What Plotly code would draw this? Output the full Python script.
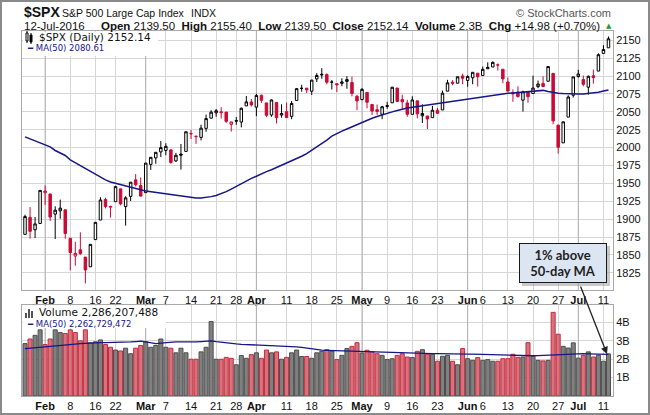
import plotly.graph_objects as go
from plotly.subplots import make_subplots

# trading days shown (Jan 26 - Jul 12, 2016)
trade_days = {
    1: [26, 27, 28, 29],
    2: [1, 2, 3, 4, 5, 8, 9, 10, 11, 12, 16, 17, 18, 19, 22, 23, 24, 25, 26, 29],
    3: [1, 2, 3, 4, 7, 8, 9, 10, 11, 14, 15, 16, 17, 18, 21, 22, 23, 24, 28, 29, 30, 31],
    4: [1, 4, 5, 6, 7, 8, 11, 12, 13, 14, 15, 18, 19, 20, 21, 22, 25, 26, 27, 28, 29],
    5: [2, 3, 4, 5, 6, 9, 10, 11, 12, 13, 16, 17, 18, 19, 20, 23, 24, 25, 26, 27, 31],
    6: [1, 2, 3, 6, 7, 8, 9, 10, 13, 14, 15, 16, 17, 20, 21, 22, 23, 24, 27, 28, 29, 30],
    7: [1, 5, 6, 7, 8, 11, 12],
}
dates = [f"2016-{m:02d}-{d:02d}" for m, days in trade_days.items() for d in days]

opens = [1878.79, 1902.52, 1885.22, 1894.00, 1936.94, 1935.26, 1907.07, 1911.67, 1913.07, 1873.25,
         1848.46, 1857.10, 1847.00, 1833.40, 1871.44, 1898.80, 1927.57, 1916.74, 1924.44, 1942.38,
         1917.56, 1931.87, 1954.95, 1947.13, 1937.09, 1976.60, 1985.60, 1994.01, 1996.11, 1996.88,
         1981.44, 1990.97, 1994.71, 2019.27, 2015.27, 2014.24, 2026.90, 2041.16, 2048.64, 2048.64,
         2049.64, 2032.48, 2037.89, 2035.75, 2058.27, 2063.77, 2056.62, 2073.19, 2062.50, 2045.56,
         2063.01, 2045.54, 2050.23, 2043.72, 2065.92, 2082.89, 2083.10, 2078.83, 2096.05, 2101.52,
         2102.09, 2091.49, 2089.37, 2089.84, 2092.57, 2090.93, 2071.82, 2067.17, 2077.18, 2060.30,
         2052.95, 2046.61, 2057.55, 2062.63, 2083.29, 2067.17, 2062.50, 2046.53, 2065.37, 2044.38,
         2044.21, 2041.88, 2052.23, 2052.65, 2078.93, 2091.44, 2090.06, 2100.13, 2093.94, 2097.71,
         2104.07, 2100.83, 2110.18, 2112.71, 2115.65, 2109.57, 2091.75, 2076.65, 2077.60, 2066.36,
         2078.20, 2075.58, 2085.19, 2089.75, 2092.80, 2103.81, 2031.45, 2006.67, 2042.69, 2073.17,
         2099.34, 2095.05, 2084.43, 2100.42, 2106.97, 2131.72, 2139.50]
highs = [1906.28, 1916.99, 1902.96, 1940.24, 1947.20, 1935.26, 1918.01, 1927.35, 1913.07, 1873.25,
         1868.25, 1881.60, 1847.00, 1864.78, 1895.77, 1930.68, 1930.00, 1918.78, 1946.70, 1942.38,
         1932.08, 1951.83, 1962.96, 1958.27, 1978.35, 1986.51, 1993.69, 2009.13, 2006.12, 1996.88,
         1992.69, 2005.08, 2022.37, 2024.57, 2015.94, 2032.02, 2046.24, 2052.36, 2053.91, 2056.60,
         2049.64, 2036.04, 2042.67, 2055.91, 2072.21, 2067.92, 2075.07, 2074.02, 2062.50, 2067.33,
         2063.01, 2060.63, 2062.93, 2065.05, 2083.18, 2087.84, 2083.22, 2094.66, 2104.05, 2111.05,
         2103.78, 2094.32, 2089.37, 2096.87, 2099.89, 2099.30, 2073.85, 2083.42, 2077.18, 2060.30,
         2060.23, 2058.35, 2064.15, 2084.87, 2083.29, 2073.99, 2066.79, 2071.88, 2065.37, 2060.61,
         2044.21, 2058.35, 2055.58, 2079.67, 2094.73, 2094.30, 2099.06, 2103.48, 2100.97, 2105.26,
         2104.07, 2113.36, 2119.22, 2120.55, 2117.64, 2109.57, 2098.12, 2081.30, 2085.65, 2079.62,
         2078.20, 2100.66, 2093.66, 2099.71, 2113.32, 2103.81, 2031.45, 2036.09, 2073.13, 2098.94,
         2108.71, 2100.72, 2100.72, 2109.08, 2131.71, 2143.16, 2155.40]
lows = [1878.79, 1872.70, 1873.65, 1894.00, 1920.03, 1897.29, 1872.23, 1900.52, 1872.65, 1828.46,
        1834.94, 1850.32, 1810.10, 1833.40, 1871.44, 1898.80, 1915.09, 1902.17, 1924.44, 1919.44,
        1891.00, 1925.41, 1945.78, 1931.81, 1937.09, 1968.80, 1977.37, 1986.77, 1989.38, 1977.43,
        1979.84, 1969.25, 1994.71, 2012.05, 2005.23, 2010.04, 2022.16, 2041.16, 2043.14, 2040.57,
        2034.49, 2022.49, 2031.96, 2028.31, 2058.27, 2057.46, 2043.98, 2062.57, 2042.56, 2043.09,
        2033.80, 2041.69, 2041.88, 2039.74, 2065.92, 2078.13, 2076.31, 2073.65, 2091.68, 2096.32,
        2088.52, 2081.20, 2077.52, 2085.80, 2082.31, 2071.62, 2052.28, 2066.11, 2054.89, 2045.55,
        2045.77, 2039.74, 2054.31, 2062.63, 2064.46, 2053.13, 2043.13, 2046.53, 2040.82, 2034.49,
        2025.91, 2041.88, 2047.26, 2052.65, 2078.93, 2087.08, 2090.06, 2088.66, 2085.10, 2088.59,
        2085.36, 2100.83, 2110.18, 2112.71, 2107.73, 2089.96, 2078.46, 2064.10, 2069.80, 2050.37,
        2062.84, 2075.58, 2083.02, 2084.36, 2092.80, 2032.57, 1991.68, 2006.67, 2042.69, 2070.00,
        2097.90, 2085.81, 2074.02, 2089.39, 2106.97, 2131.72, 2139.50]
closes = [1903.63, 1882.95, 1893.36, 1940.24, 1939.38, 1903.03, 1912.53, 1915.45, 1880.05, 1853.44,
          1852.21, 1851.86, 1829.08, 1864.78, 1895.58, 1926.82, 1917.83, 1917.78, 1945.50, 1921.27,
          1929.80, 1951.70, 1948.05, 1932.23, 1978.35, 1986.45, 1993.40, 1999.99, 2001.76, 1979.26,
          1989.26, 1989.57, 2022.19, 2019.64, 2015.93, 2027.22, 2040.59, 2049.58, 2051.60, 2049.80,
          2036.71, 2035.94, 2037.05, 2055.01, 2063.95, 2059.74, 2072.78, 2066.13, 2045.17, 2066.66,
          2041.91, 2047.60, 2041.99, 2061.72, 2082.42, 2082.78, 2080.73, 2094.34, 2100.80, 2102.40,
          2091.48, 2091.58, 2087.79, 2091.70, 2095.15, 2075.81, 2065.30, 2081.43, 2063.37, 2051.12,
          2050.63, 2057.14, 2058.69, 2084.39, 2064.46, 2064.11, 2046.61, 2066.66, 2047.21, 2047.63,
          2040.04, 2052.32, 2048.04, 2076.06, 2090.54, 2090.10, 2099.06, 2096.95, 2099.33, 2105.26,
          2099.13, 2109.41, 2112.13, 2119.12, 2115.48, 2096.07, 2079.06, 2075.32, 2071.50, 2077.99,
          2071.22, 2083.25, 2088.90, 2085.45, 2113.32, 2037.41, 2000.54, 2036.09, 2070.77, 2098.86,
          2102.95, 2088.55, 2099.73, 2097.90, 2129.90, 2137.16, 2152.14]

# 50-day moving average of price
ma50 = [2015, 2012, 2009, 2006, 2004, 2001, 1996, 1993, 1989, 1983,
        1979, 1974, 1970, 1966, 1962, 1958, 1955, 1952, 1950, 1948,
        1946, 1944.5, 1943, 1941, 1939.5, 1938.5, 1937.5, 1936.5, 1935.5, 1934.5,
        1933, 1932, 1931, 1930, 1929.5, 1929.5, 1930, 1931.5, 1933, 1935.5,
        1938.5, 1942, 1946, 1950, 1953.5, 1957, 1960, 1963.5, 1966.5, 1969,
        1972, 1975, 1978, 1981, 1984.5, 1988, 1991.5, 1996, 2001, 2005.5,
        2010.5, 2016, 2020, 2023, 2026, 2029, 2033, 2036, 2038.5, 2041,
        2043.5, 2046, 2048, 2050, 2052, 2054, 2055.5, 2056.5, 2057.5, 2058.5,
        2059.5, 2060.5, 2061.5, 2062.5, 2063.5, 2064.5, 2065.5, 2067, 2068.5, 2069.5,
        2070.5, 2071.5, 2072.5, 2073.5, 2074.5, 2075.5, 2076, 2076.5, 2077, 2077.5,
        2078.5, 2079, 2079.5, 2080, 2078.5, 2077, 2076, 2075.5, 2075, 2075,
        2075, 2075, 2075.5, 2076.5, 2077.5, 2079, 2080.61]

# volume in billions
volumes = [2.85, 3.1, 3.3, 3.6, 2.8, 3.1, 3.6, 3.45, 3.4, 3.6,
           3.45, 3.0, 3.6, 2.9, 2.95, 3.05, 2.8, 2.65, 2.5, 2.45,
           2.6, 2.3, 2.6, 2.75, 2.95, 2.65, 2.75, 3.1, 2.65, 2.6,
           2.35, 2.6, 2.35, 2.0, 2.0, 2.4, 2.65, 4.05, 2.0, 2.0,
           2.1, 2.05, 1.7, 2.2, 2.05, 2.25, 2.35, 2.05, 2.5, 2.35,
           2.4, 2.0, 2.1, 2.35, 2.5, 2.15, 2.15, 2.05, 2.35, 2.43,
           2.52, 2.45, 1.98, 2.21, 2.58, 2.7, 2.9, 2.34, 2.49, 2.4,
           2.3, 2.21, 1.98, 2.03, 2.21, 2.3, 2.12, 2.09, 2.43, 2.52,
           2.27, 2.27, 1.89, 2.16, 2.21, 1.89, 1.7, 2.58, 2.03, 1.94,
           2.09, 1.94, 1.98, 1.89, 1.89, 2.03, 2.03, 2.27, 2.1, 2.12,
           2.9, 2.16, 1.94, 1.91, 1.94, 4.55, 3.36, 2.7, 2.61, 2.89,
           2.06, 2.21, 2.4, 2.12, 2.21, 1.89, 2.29]
vol_ma50 = [2.58, 2.6, 2.62, 2.65, 2.68, 2.7, 2.72, 2.74, 2.76, 2.79,
            2.82, 2.85, 2.87, 2.89, 2.9, 2.9, 2.9, 2.9, 2.9, 2.91,
            2.92, 2.94, 2.96, 2.98, 2.94, 2.88, 2.85, 2.88, 2.91, 2.93,
            2.94, 2.94, 2.93, 2.93, 2.94, 2.96, 2.98, 3.0, 2.96, 2.92,
            2.88, 2.85, 2.83, 2.81, 2.8, 2.79, 2.78, 2.77, 2.76, 2.74,
            2.72, 2.7, 2.69, 2.68, 2.67, 2.64, 2.6, 2.55, 2.51, 2.49,
            2.48, 2.47, 2.46, 2.45, 2.45, 2.44, 2.43, 2.43, 2.42, 2.41,
            2.4, 2.39, 2.38, 2.37, 2.37, 2.36, 2.35, 2.34, 2.33, 2.32,
            2.32, 2.31, 2.31, 2.3, 2.3, 2.29, 2.29, 2.29, 2.28, 2.28,
            2.27, 2.27, 2.27, 2.26, 2.26, 2.25, 2.24, 2.23, 2.21, 2.2,
            2.18, 2.19, 2.2, 2.21, 2.22, 2.25, 2.27, 2.29, 2.3, 2.31,
            2.31, 2.3, 2.29, 2.28, 2.27, 2.26, 2.263]

tick_dates = ["2016-02-01", "2016-02-08", "2016-02-16", "2016-02-22", "2016-03-01", "2016-03-07",
              "2016-03-14", "2016-03-21", "2016-03-28", "2016-04-01", "2016-04-11", "2016-04-18",
              "2016-04-25", "2016-05-02", "2016-05-09", "2016-05-16", "2016-05-23", "2016-06-01",
              "2016-06-06", "2016-06-13", "2016-06-20", "2016-06-27", "2016-07-01", "2016-07-11"]
tick_labels = ["<b>Feb</b>", "8", "16", "22", "<b>Mar</b>", "7", "14", "21", "28", "<b>Apr</b>",
               "11", "18", "25", "<b>May</b>", "9", "16", "23", "<b>Jun</b>", "6", "13", "20", "27",
               "<b>Jul</b>", "11"]

n = len(dates)
xs = list(range(n))
tickvals = [dates.index(d) for d in tick_dates]
month_vals = [v for v, t in zip(tickvals, tick_labels) if t.startswith("<b>")]

RED = "#cc0a35"
NAVY = "#161688"
PRICE_RANGE = [1801, 2163]
VOL_RANGE = [0, 4.95]

up = [i for i in xs if i == 0 or closes[i] >= closes[i - 1]]
dn = [i for i in xs if i not in up]

W, H = 650, 415
L, R, T, B = 22, 37, 31, 19
pw, ph = W - L - R, H - T - B


def px(x):
    return (x - L) / pw


def py(y):
    return (H - B - y) / ph


def sub(lst, idx):
    return [lst[i] for i in idx]


fig = make_subplots(rows=2, cols=1, shared_xaxes=True, vertical_spacing=0.04)

fig.add_trace(go.Candlestick(
    x=up, open=sub(opens, up), high=sub(highs, up), low=sub(lows, up), close=sub(closes, up),
    increasing=dict(line=dict(color="black", width=1), fillcolor="white"),
    decreasing=dict(line=dict(color="black", width=1), fillcolor="black"),
    whiskerwidth=0, showlegend=False, hoverinfo="skip"), row=1, col=1)
fig.add_trace(go.Candlestick(
    x=dn, open=sub(opens, dn), high=sub(highs, dn), low=sub(lows, dn), close=sub(closes, dn),
    increasing=dict(line=dict(color=RED, width=1), fillcolor="white"),
    decreasing=dict(line=dict(color=RED, width=1), fillcolor=RED),
    whiskerwidth=0, showlegend=False, hoverinfo="skip"), row=1, col=1)
fig.add_trace(go.Scatter(x=xs, y=ma50, mode="lines", line=dict(color=NAVY, width=1.5),
                         showlegend=False, hoverinfo="skip"), row=1, col=1)

bar_fill = ["#808080" if i in up else "#d7737e" for i in xs]
bar_line = ["#4d4d4d" if i in up else "#c42a3c" for i in xs]
fig.add_trace(go.Bar(x=xs, y=volumes, width=0.8,
                     marker=dict(color=bar_fill, line=dict(color=bar_line, width=1)),
                     showlegend=False, hoverinfo="skip"), row=2, col=1)
fig.add_trace(go.Scatter(x=xs, y=vol_ma50, mode="lines", line=dict(color=NAVY, width=1.3),
                         showlegend=False, hoverinfo="skip"), row=2, col=1)

axis_font = dict(family="Liberation Sans, Arial", size=11, color="#111")
fig.update_xaxes(range=[-0.6, 116.9], tickvals=tickvals, ticktext=tick_labels, showticklabels=True,
                 showgrid=True, gridcolor="#d6d6d6", gridwidth=1, zeroline=False, automargin=False,
                 showline=True, linecolor="#a8a8a8", mirror=True, ticks="",
                 tickfont=axis_font, rangeslider=dict(visible=False))
fig.update_yaxes(side="right", showgrid=True, gridcolor="#d6d6d6", zeroline=False, automargin=False,
                 showline=True, linecolor="#a8a8a8", mirror=True, ticks="", tickfont=axis_font)

fig.update_layout(
    width=W, height=H, margin=dict(l=L, r=R, t=T, b=B, autoexpand=False),
    paper_bgcolor="white", plot_bgcolor="white", showlegend=False, barmode="overlay",
    yaxis=dict(domain=[py(290), 1], range=PRICE_RANGE, tickvals=list(range(1825, 2151, 25))),
    yaxis2=dict(domain=[0, py(305)], range=VOL_RANGE, tickvals=[1, 2, 3, 4],
                ticktext=["1B", "2B", "3B", "4B"]),
)

shapes = []
# legend backgrounds
shapes.append(dict(type="rect", xref="paper", yref="paper", x0=px(23), x1=px(158), y0=py(56), y1=py(32),
                   fillcolor="white", line=dict(width=0), layer="above"))
shapes.append(dict(type="rect", xref="paper", yref="paper", x0=px(23), x1=px(166), y0=py(328), y1=py(306),
                   fillcolor="white", line=dict(width=0), layer="above"))
# legend icons: small candles and volume bars
for x0, y0, y1, fill in ((26, 33, 41, "white"), (30, 35, 42, "black")):
    shapes.append(dict(type="line", xref="paper", yref="paper", x0=px(x0 + 1), x1=px(x0 + 1),
                       y0=py(y1 + 2), y1=py(y0 - 2), line=dict(color="black", width=1), layer="above"))
    shapes.append(dict(type="rect", xref="paper", yref="paper", x0=px(x0), x1=px(x0 + 2),
                       y0=py(y1), y1=py(y0), fillcolor=fill, line=dict(color="black", width=1), layer="above"))
for x0, top in ((25, 313), (28, 309), (31, 311)):
    shapes.append(dict(type="rect", xref="paper", yref="paper", x0=px(x0), x1=px(x0 + 2),
                       y0=py(318), y1=py(top), fillcolor="#555", line=dict(width=0), layer="above"))
# callout shadow
shapes.append(dict(type="rect", xref="paper", yref="paper", x0=px(522), x1=px(610), y0=py(286), y1=py(246),
                   fillcolor="#9c9c9c", opacity=0.55, line=dict(width=0), layer="above"))
# outer border
shapes.append(dict(type="rect", xref="paper", yref="paper", x0=px(1), x1=px(649), y0=py(414), y1=py(1),
                   line=dict(color="#8a8a8a", width=2), layer="above"))
# darker month-start grid lines, between the grid and the marks
for m in month_vals:
    shapes.append(dict(type="line", xref="x", yref="y", x0=m, x1=m, y0=PRICE_RANGE[0], y1=PRICE_RANGE[1],
                       line=dict(color="#b0b0b0", width=1), layer="between"))
    shapes.append(dict(type="line", xref="x2", yref="y2", x0=m, x1=m, y0=VOL_RANGE[0], y1=VOL_RANGE[1],
                       line=dict(color="#b0b0b0", width=1), layer="between"))

hdr = dict(family="Liberation Sans, Arial", size=11.5, color="#111")
leg = dict(family="DejaVu Sans", size=10.5, color="#111")
chg = closes[-1] - closes[-2]
pct = chg / closes[-2] * 100
ann = [
    dict(x=px(22), y=py(12), text="<b>$SPX</b>", font=dict(family="Liberation Sans, Arial", size=14, color="#111")),
    dict(x=px(60), y=py(13), text="S&P 500 Large Cap Index", font=dict(hdr, size=10.5)),
    dict(x=px(189), y=py(13), text="INDX", font=dict(hdr, size=10.5)),
    dict(x=px(613), y=py(13), text="© StockCharts.com",
         font=dict(family="Liberation Sans, Arial", size=11, color="#555"), xanchor="right"),
    dict(x=px(22), y=py(26), text="12-Jul-2016", font=hdr),
    dict(x=px(602), y=py(26),
         text=(f"<b>Open</b> {opens[-1]:.2f}  <b>High</b> {highs[-1]:.2f}  <b>Low</b> {lows[-1]:.2f}  "
               f"<b>Close</b> {closes[-1]:.2f}  <b>Volume</b> {volumes[-1]:.1f}B  "
               f"<b>Chg</b> +{chg:.2f} (+{pct:.2f}%)"),
         font=hdr, xanchor="right"),
    dict(x=px(609), y=py(26), text="▲", font=dict(family="DejaVu Sans", size=7, color="#2a9a2a"),
         xanchor="center"),
    dict(x=px(37), y=py(37), text=f"$SPX (Daily) {closes[-1]:.2f}", font=leg),
    dict(x=px(25), y=py(48), text=f"━ MA(50) {ma50[-1]:.2f}",
         font=dict(family="DejaVu Sans", size=8.5, color=NAVY)),
    dict(x=px(37), y=py(312), text="Volume 2,286,207,488", font=leg),
    dict(x=px(25), y=py(324), text="━ MA(50) 2,262,729,472",
         font=dict(family="DejaVu Sans", size=8.5, color=NAVY)),
    dict(x=px(607), y=py(354), ax=-27, ay=-69, text="", showarrow=True, arrowhead=2,
         arrowsize=1.1, arrowwidth=1.3, arrowcolor="#222", xanchor="center"),
    dict(x=px(563), y=py(263), text="<b>1% above</b><br><b>50-day MA</b>", width=86, height=38,
         bgcolor="#dce6f2", bordercolor="#1a1a1a", borderwidth=1, borderpad=0,
         font=dict(family="Lato", size=13, color="#1f1f1f"), xanchor="center"),
]
for a in ann:
    a.setdefault("xref", "paper")
    a.setdefault("yref", "paper")
    a.setdefault("showarrow", False)
    a.setdefault("xanchor", "left")
    a.setdefault("yanchor", "middle")
fig.update_layout(shapes=shapes, annotations=ann)

fig.write_html("out.html", config={"displayModeBar": False},
               post_script="document.body.style.margin='0';document.body.style.overflow='hidden';")
